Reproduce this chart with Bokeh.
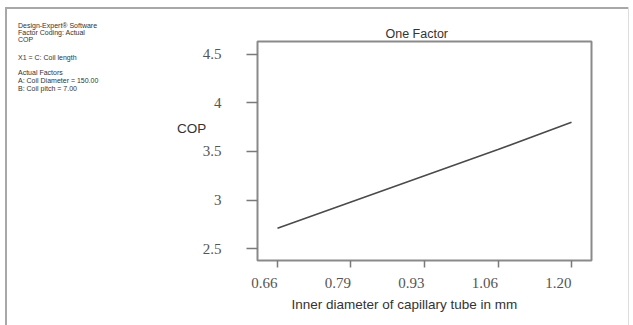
from bokeh.plotting import figure
from bokeh.layouts import row
from bokeh.models import FixedTicker, Range1d, Title, Div
from bokeh.embed import file_html
from bokeh.resources import INLINE

# ---- data ----
diameter = [0.66, 0.795, 0.93, 1.065, 1.2]
cop = [2.71, 2.98, 3.25, 3.52, 3.80]
x_ticks = [0.66, 0.795, 0.93, 1.065, 1.2]
x_tick_labels = ["0.66", "0.79", "0.93", "1.06", "1.20"]
y_ticks = [2.5, 3.0, 3.5, 4.0, 4.5]
y_tick_labels = ["2.5", "3", "3.5", "4", "4.5"]
info_lines = [
    "Design-Expert\u00ae Software",
    "Factor Coding: Actual",
    "COP",
    "X1 = C: Coil length",
    "Actual Factors",
    "A: Coil Diameter = 150.00",
    "B: Coil pitch = 7.00",
]
title_text = "One Factor"
x_title = "Inner diameter of capillary tube in mm"
y_title = "COP"

# ---- layout constants (pixels) ----
W, H = 633, 325
LW = 194                      # width of the left text panel
FL, FR, FT, FB = 257, 591, 41, 260
X0, X1 = 0.6233, 1.2367
Y0, Y1 = 2.38, 4.629
info_centers = [25, 32, 39, 57, 72, 80, 88]
# the x tick labels sit to the left of their ticks (right-aligned look):
# pad them with invisible figure/punctuation spaces of equal width
X_LABEL_PAD = "\u2007\u2007\u2007\u2008"

# ---- left panel: info text + y title (HTML text) ----
parts = ['<div style="position:relative;width:%dpx;height:%dpx;margin:0;padding:0;overflow:visible;">' % (LW, H)]
for line, cy in zip(info_lines, info_centers):
    parts.append('<div style="position:absolute;left:18px;top:%.1fpx;white-space:nowrap;'
                 'font-family:\'Liberation Sans\';font-size:7px;line-height:7px;color:#333333;">%s</div>'
                 % (cy - 3.5, line))
parts.append('<div style="position:absolute;left:177px;top:121.5px;white-space:nowrap;'
             'font-family:\'Liberation Sans\';font-size:13.5px;line-height:13.5px;color:#333333;">%s</div>'
             % y_title)
parts.append('</div>')
left = Div(text="".join(parts), width=LW, height=H,
           styles={"margin": "0", "padding": "0", "overflow": "visible", "z-index": "2"})

# ---- main plot ----
p = figure(width=W - LW, height=H, output_backend="svg", toolbar_location=None,
           x_range=Range1d(X0, X1), y_range=Range1d(Y0, Y1),
           min_border_left=FL - LW, min_border_right=W - FR,
           min_border_top=FT, min_border_bottom=H - FB)
p.background_fill_color = "white"
p.border_fill_color = None
p.outline_line_color = "#8a8a8a"
p.outline_line_width = 2
p.grid.visible = False

p.line(diameter, cop, line_color="#4a4a4a", line_width=1.6)

for ax in (p.xaxis[0], p.yaxis[0]):
    ax.axis_line_color = None
    ax.major_tick_line_color = "#7a7a7a"
    ax.major_tick_line_width = 1.5
    ax.minor_tick_line_color = None
    ax.major_tick_in = 0
    ax.major_label_text_font = "Liberation Serif"
    ax.major_label_text_font_size = "15px"
    ax.major_label_text_color = "#555555"

p.xaxis.ticker = FixedTicker(ticks=x_ticks)
p.xaxis.major_label_overrides = {t: l + X_LABEL_PAD for t, l in zip(x_ticks, x_tick_labels)}
p.xaxis.major_tick_out = 7
p.xaxis.major_label_standoff = 7
p.yaxis.ticker = FixedTicker(ticks=y_ticks)
p.yaxis.major_label_overrides = {t: l for t, l in zip(y_ticks, y_tick_labels)}
p.yaxis.major_tick_out = 11
p.yaxis.major_label_standoff = 25

p.title.text = title_text
p.title.align = "left"
p.title.offset = 385 - FL
p.title.text_font = "Liberation Sans"
p.title.text_font_size = "12.5px"
p.title.text_font_style = "normal"
p.title.text_color = "#333333"
p.title.standoff = 2

p.add_layout(Title(text=x_title, align="left", offset=291 - FL,
                   text_font="Liberation Sans", text_font_size="13.5px",
                   text_font_style="normal", text_color="#333333", standoff=3), "below")

layout = row(left, p, spacing=0)
layout.styles = {
    "background-color": "white",
    "background-image": "linear-gradient(#a8a8a8,#a8a8a8), linear-gradient(#a8a8a8,#a8a8a8), linear-gradient(#dddddd,#dddddd)",
    "background-size": "623px 2px, 2px 318px, 1px 318px",
    "background-position": "5px 7px, 5px 7px, 628px 7px",
    "background-repeat": "no-repeat",
}

open("out.html", "w").write(file_html(layout, INLINE))
